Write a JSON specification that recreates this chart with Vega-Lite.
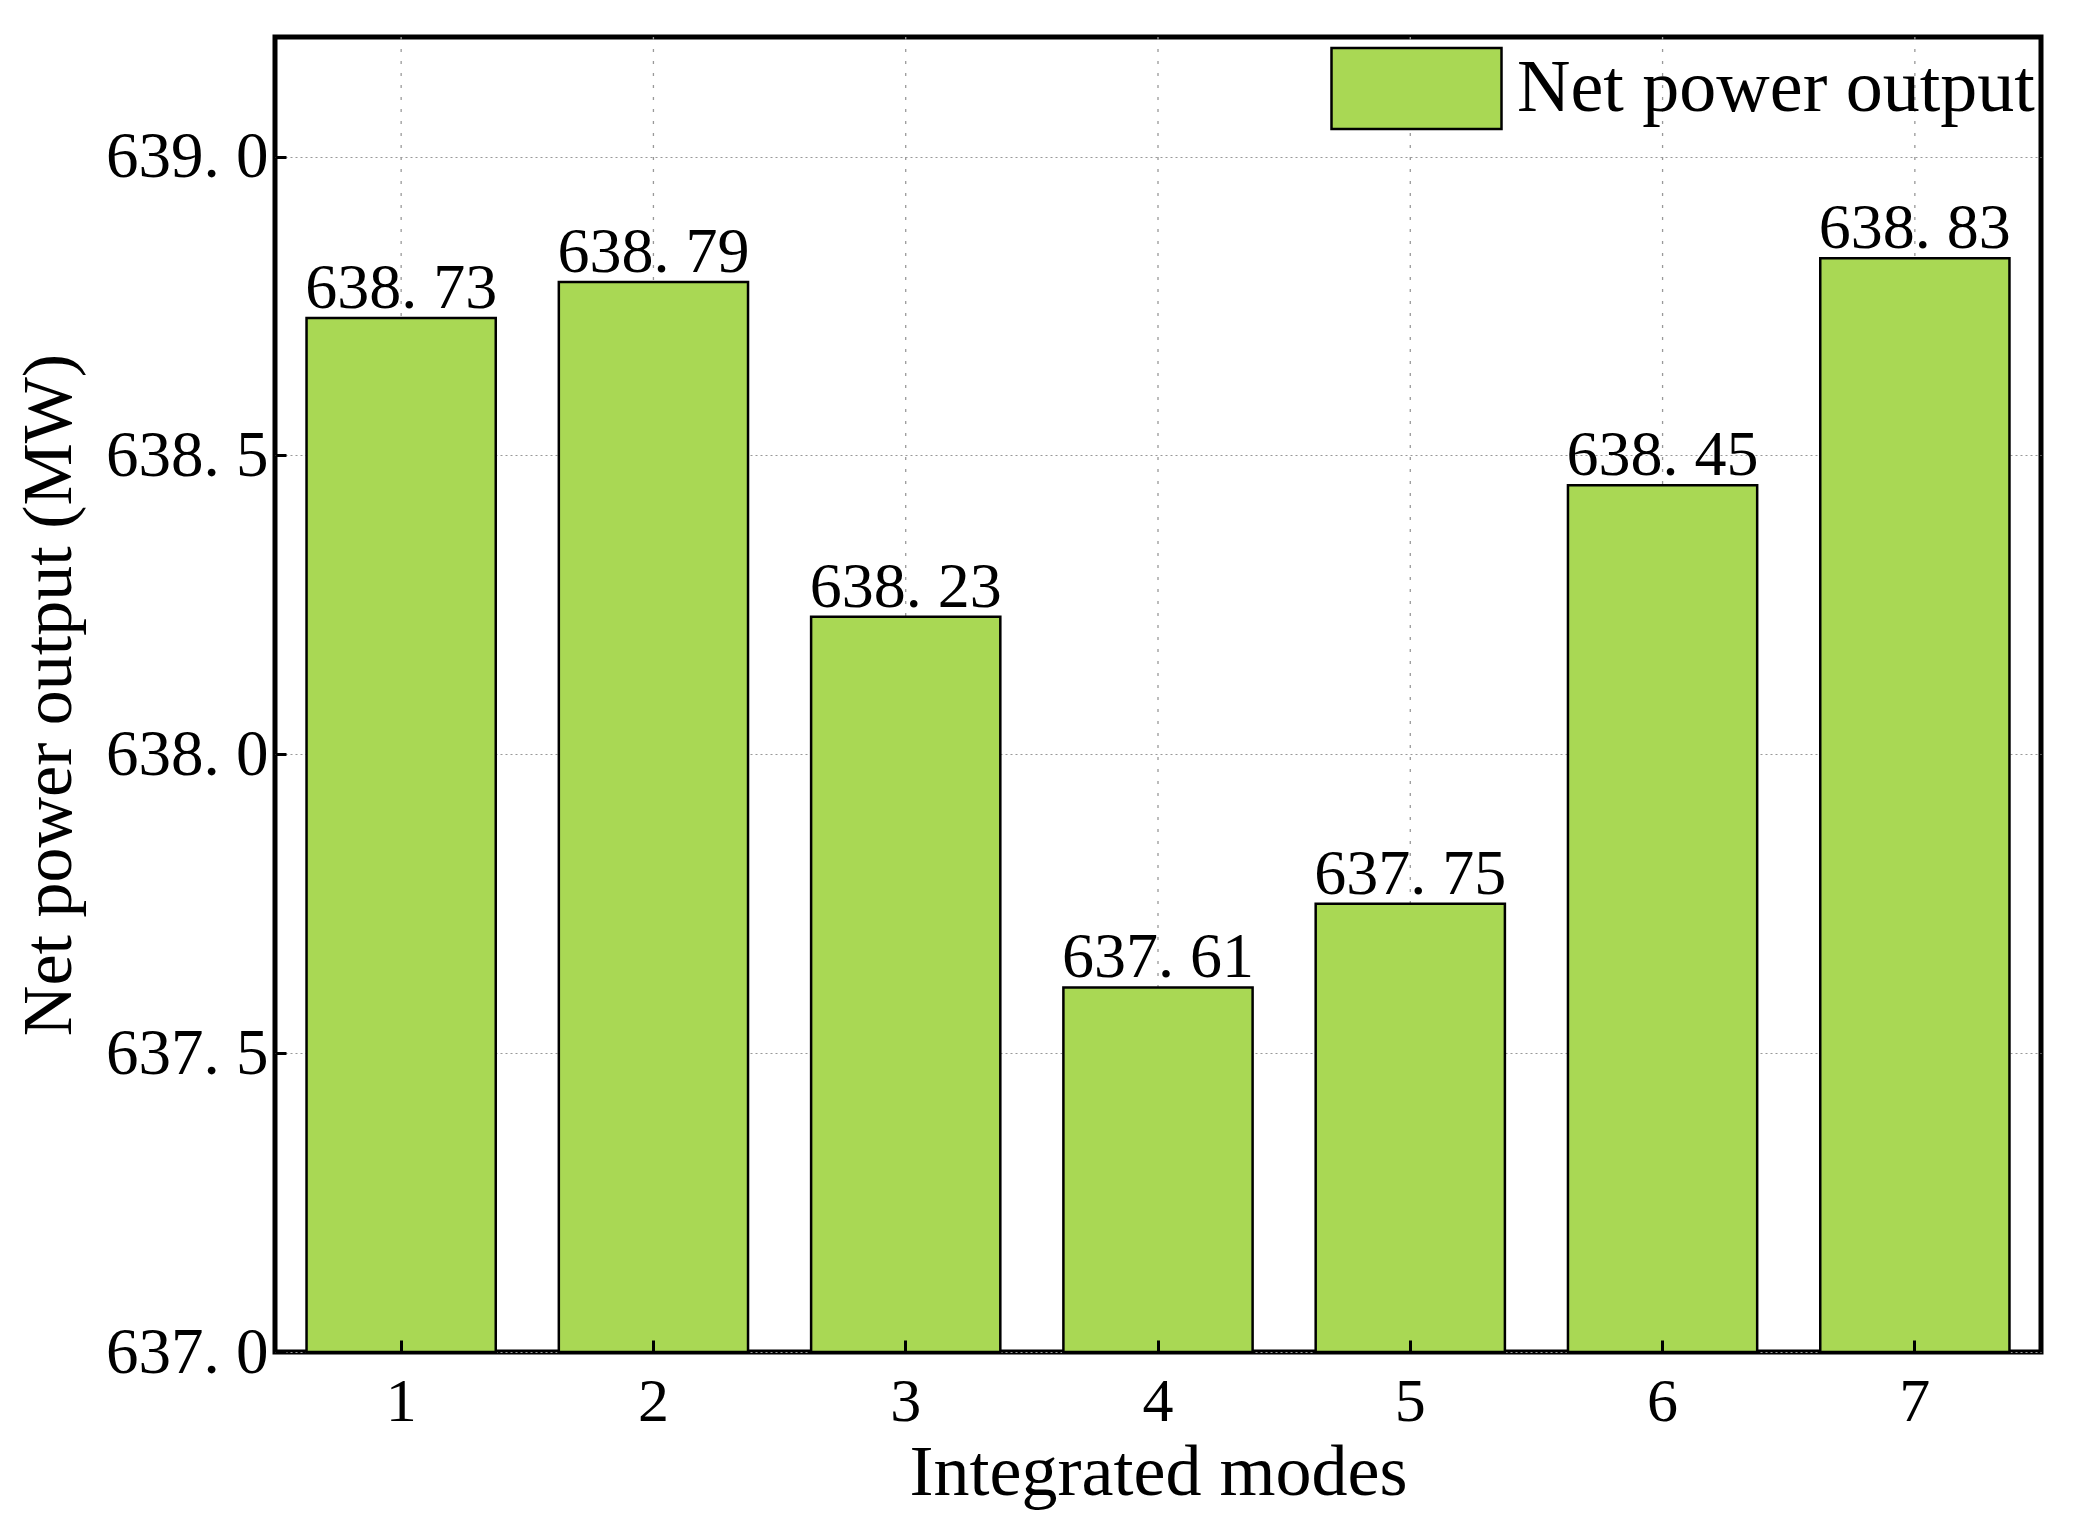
{
  "$schema": "https://vega.github.io/schema/vega-lite/v6.json",
  "width": 1766,
  "height": 1315,
  "autosize": {"type": "none"},
  "padding": {"left": 275, "top": 37, "right": 44, "bottom": 166},
  "background": "white",
  "config": {
    "view": {"stroke": "black", "strokeWidth": 5},
    "font": "Liberation Serif"
  },
  "data": {
    "values": [
      {"mode": "1", "value": 638.73, "label": "638. 73", "series": "Net power output"},
      {"mode": "2", "value": 638.79, "label": "638. 79", "series": "Net power output"},
      {"mode": "3", "value": 638.23, "label": "638. 23", "series": "Net power output"},
      {"mode": "4", "value": 637.61, "label": "637. 61", "series": "Net power output"},
      {"mode": "5", "value": 637.75, "label": "637. 75", "series": "Net power output"},
      {"mode": "6", "value": 638.45, "label": "638. 45", "series": "Net power output"},
      {"mode": "7", "value": 638.83, "label": "638. 83", "series": "Net power output"}
    ]
  },
  "encoding": {
    "x": {
      "field": "mode",
      "type": "ordinal",
      "scale": {"paddingInner": 0.25, "paddingOuter": 0.125},
      "axis": {
        "title": "Integrated modes",
        "titleFont": "Liberation Serif",
        "titleFontSize": 72,
        "titleFontWeight": "normal",
        "titleColor": "black",
        "titlePadding": 5,
        "labelAngle": 0,
        "labelFont": "Liberation Serif",
        "labelFontSize": 62,
        "labelColor": "black",
        "labelPadding": 31,
        "tickSize": -12,
        "tickWidth": 3,
        "tickColor": "black",
        "domain": false,
        "grid": false,
        "zindex": 1
      }
    }
  },
  "layer": [
    {
      "mark": {"type": "rule", "strokeDash": [3, 9], "color": "#999999", "strokeWidth": 1.3},
      "encoding": {}
    },
    {
      "mark": {"type": "bar", "stroke": "black", "strokeWidth": 2.5},
      "encoding": {
        "y": {
          "field": "value",
          "type": "quantitative",
          "scale": {"domain": [637, 639.2], "zero": false, "nice": false},
          "axis": {
            "title": "Net power output (MW)",
            "titleFont": "Liberation Serif",
            "titleFontSize": 70,
            "titleFontWeight": "normal",
            "titleColor": "black",
            "titlePadding": 20,
            "values": [637, 637.5, 638, 638.5, 639],
            "labelExpr": "replace(format(datum.value, '.1f'), '.', '. ')",
            "labelFont": "Liberation Serif",
            "labelFontSize": 65,
            "labelColor": "black",
            "labelPadding": 18,
            "tickSize": -11,
            "tickWidth": 3,
            "tickColor": "black",
            "domain": false,
            "grid": true,
            "gridDash": [2, 3],
            "gridColor": "#999999",
            "gridWidth": 1.2
          }
        },
        "y2": {"datum": 637},
        "fill": {
          "field": "series",
          "type": "nominal",
          "scale": {"range": ["#a9d854"]},
          "legend": {
            "title": null,
            "orient": "none",
            "legendX": 1055,
            "legendY": -35,
            "padding": 0,
            "symbolType": "M-1,-0.476H1V0.476H-1Z",
            "symbolSize": 28900,
            "symbolStrokeColor": "black",
            "symbolStrokeWidth": 2.5,
            "symbolOpacity": 1,
            "labelFont": "Liberation Serif",
            "labelFontSize": 74,
            "labelColor": "black",
            "labelOffset": 14,
            "labelLimit": 0
          }
        }
      }
    },
    {
      "mark": {"type": "text", "baseline": "alphabetic", "dy": -10, "fontSize": 64, "font": "Liberation Serif", "color": "black"},
      "encoding": {
        "y": {"field": "value", "type": "quantitative"},
        "text": {"field": "label"}
      }
    }
  ]
}
